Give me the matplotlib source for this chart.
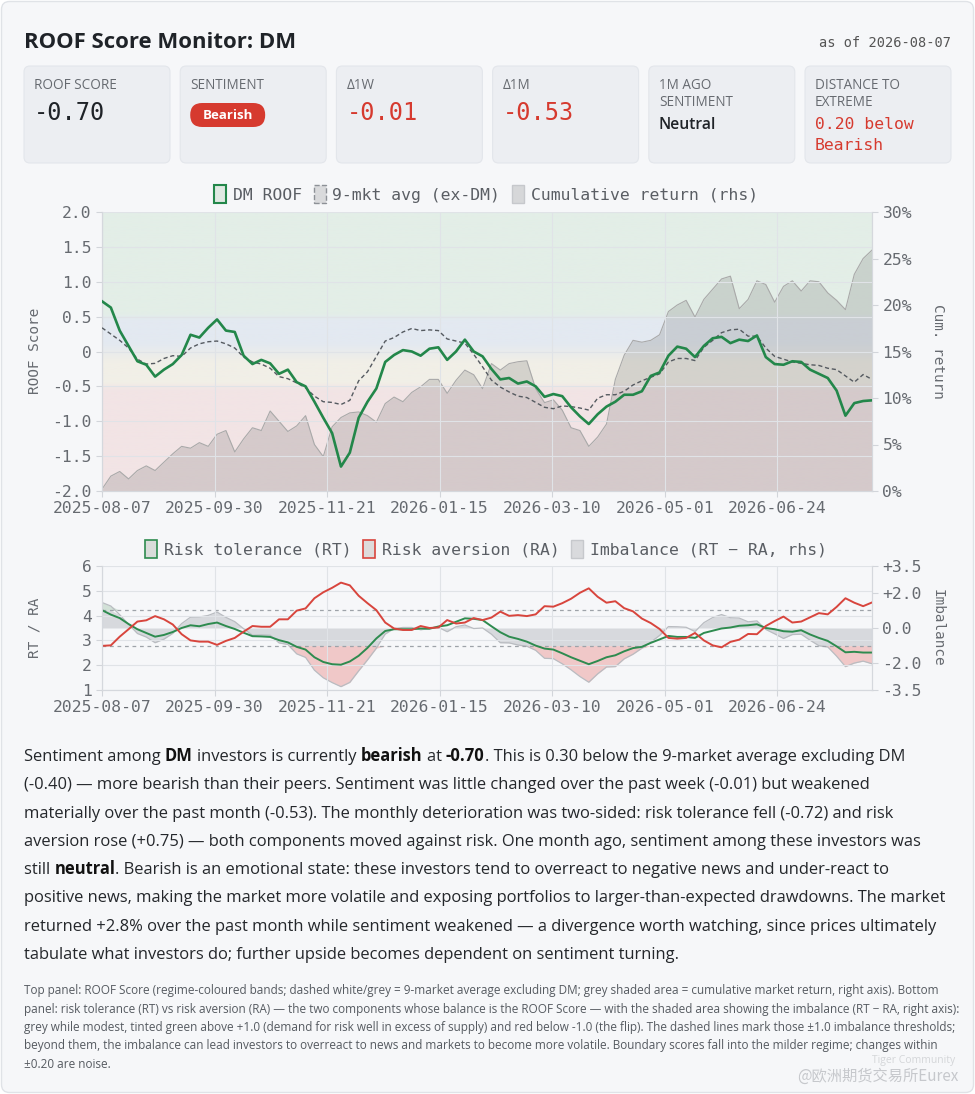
import numpy as np
import pandas as pd
import matplotlib
matplotlib.use("Agg")
import matplotlib.pyplot as plt
from matplotlib.patches import FancyBboxPatch, Patch
from matplotlib.colors import to_rgb
from matplotlib.ticker import FuncFormatter

W, H = 975, 1094
SANS = ["Open Sans", "DejaVu Sans"]
MONO = ["DejaVu Sans Mono"]
CJK = ["Noto Sans CJK SC", "DejaVu Sans"]

# ---- data (one value every 3 trading days) ----
dates = pd.bdate_range("2025-08-07", "2026-08-07").drop(pd.Timestamp("2025-12-25"))

roof = [0.72, 0.63, 0.30, 0.08, -0.14, -0.19, -0.36, -0.26, -0.18, -0.05,
        0.24, 0.20, 0.34, 0.46, 0.30, 0.28, -0.06, -0.18, -0.12, -0.17,
        -0.32, -0.26, -0.44, -0.50, -0.72, -0.95, -1.17, -1.65, -1.45, -0.95,
        -0.72, -0.53, -0.15, -0.05, 0.02, 0.00, -0.06, 0.04, 0.06, -0.12,
        0.00, 0.17, 0.00, -0.07, -0.25, -0.40, -0.38, -0.46, -0.43, -0.50,
        -0.65, -0.61, -0.64, -0.80, -0.93, -1.04, -0.90, -0.79, -0.72, -0.62,
        -0.62, -0.57, -0.35, -0.30, -0.06, 0.07, 0.04, -0.08, 0.08, 0.19,
        0.21, 0.12, 0.17, 0.15, 0.23, -0.08, -0.18, -0.19, -0.14, -0.15,
        -0.26, -0.32, -0.38, -0.56, -0.92, -0.74, -0.71, -0.70]

avg_ex_dm = [0.34, 0.25, 0.16, 0.05, -0.11, -0.18, -0.17, -0.10, -0.06, -0.07,
             0.05, 0.11, 0.14, 0.15, 0.11, 0.05, -0.08, -0.15, -0.18, -0.24,
             -0.36, -0.39, -0.45, -0.52, -0.64, -0.72, -0.73, -0.76, -0.70, -0.42,
             -0.29, -0.07, 0.15, 0.20, 0.28, 0.33, 0.30, 0.31, 0.30, 0.18,
             0.15, 0.12, -0.04, -0.22, -0.41, -0.51, -0.58, -0.64, -0.66, -0.73,
             -0.80, -0.82, -0.78, -0.79, -0.81, -0.84, -0.67, -0.62, -0.62, -0.57,
             -0.48, -0.42, -0.37, -0.32, -0.15, -0.10, -0.10, -0.13, 0.06, 0.16,
             0.27, 0.31, 0.32, 0.22, 0.22, 0.05, -0.07, -0.11, -0.15, -0.17,
             -0.19, -0.20, -0.24, -0.26, -0.35, -0.44, -0.33, -0.40]

cum_ret = [0.2, 1.6, 2.1, 1.3, 2.2, 2.7, 2.2, 3.1, 4.0, 4.8,
           4.6, 5.2, 4.8, 6.1, 6.5, 4.2, 5.6, 6.8, 6.5, 8.6,
           7.5, 6.4, 7.0, 8.1, 5.0, 3.7, 6.9, 7.9, 8.4, 8.5,
           8.1, 7.4, 9.4, 10.1, 9.6, 10.6, 11.2, 12.0, 12.0, 10.5,
           11.9, 13.0, 12.5, 11.0, 13.7, 13.0, 13.7, 13.9, 14.0, 11.0,
           9.5, 9.8, 8.7, 6.8, 6.5, 4.8, 5.8, 7.2, 12.0, 14.6,
           16.2, 16.0, 16.2, 16.8, 19.3, 20.0, 20.5, 18.7, 20.6, 21.7,
           22.8, 23.1, 19.6, 20.6, 22.6, 22.2, 20.3, 22.0, 22.6, 21.5,
           22.6, 22.5, 21.3, 20.5, 19.5, 23.3, 25.0, 25.9]

rt = [4.22, 4.04, 3.90, 3.66, 3.45, 3.30, 3.15, 3.22, 3.34, 3.50,
      3.61, 3.57, 3.66, 3.72, 3.58, 3.46, 3.31, 3.17, 3.16, 3.14,
      3.01, 2.92, 2.74, 2.63, 2.32, 2.13, 2.04, 2.02, 2.15, 2.38,
      2.70, 3.08, 3.38, 3.45, 3.45, 3.45, 3.48, 3.47, 3.56, 3.61,
      3.75, 3.89, 3.87, 3.82, 3.57, 3.33, 3.15, 3.06, 2.95, 2.79,
      2.67, 2.63, 2.48, 2.32, 2.18, 2.04, 2.17, 2.32, 2.40, 2.56,
      2.69, 2.74, 2.90, 3.04, 3.18, 3.14, 3.14, 3.10, 3.30, 3.39,
      3.48, 3.52, 3.59, 3.61, 3.65, 3.50, 3.45, 3.37, 3.35, 3.41,
      3.24, 3.10, 2.98, 2.76, 2.52, 2.54, 2.51, 2.51]

ra = [2.78, 2.80, 3.15, 3.45, 3.76, 3.81, 3.98, 3.85, 3.64, 3.25,
      3.00, 2.95, 2.95, 2.82, 2.98, 3.10, 3.35, 3.58, 3.55, 3.55,
      3.85, 3.85, 4.20, 4.29, 4.70, 4.94, 5.12, 5.33, 5.22, 4.80,
      4.50, 4.22, 3.72, 3.48, 3.42, 3.42, 3.58, 3.50, 3.52, 3.82,
      3.68, 3.72, 3.90, 3.82, 3.92, 4.16, 3.99, 4.02, 3.98, 4.05,
      4.38, 4.36, 4.50, 4.68, 4.92, 5.10, 4.76, 4.52, 4.58, 4.30,
      4.17, 3.88, 3.70, 3.46, 3.10, 3.07, 3.10, 3.30, 3.00, 2.80,
      2.72, 2.94, 3.03, 3.26, 3.25, 3.58, 3.78, 3.96, 3.72, 3.76,
      3.93, 4.10, 4.05, 4.35, 4.70, 4.52, 4.38, 4.53]

tick_every = 38  # trading days between date labels

stat_labels = [["ROOF SCORE"], ["SENTIMENT"], ["\u03941W"], ["\u03941M"],
               ["1M AGO", "SENTIMENT"], ["DISTANCE TO", "EXTREME"]]
stat_values = ["-0.70", "Bearish", "-0.01", "-0.53", "Neutral", "0.20 below\nBearish"]

# ---- derived ----
xmax = len(dates) - 1
pos = np.linspace(0, xmax, len(roof))
imb = np.array(rt) - np.array(ra)
tick_pos = np.arange(0, len(dates), tick_every)
tick_lab = [dates[i].strftime("%Y-%m-%d") for i in tick_pos]

INK = "#1f2328"
MUTED = "#666a70"
RED = "#d63a2f"
GREEN = "#23874a"
GRID = "#e0e3e7"

fig = plt.figure(figsize=(W / 100, H / 100), dpi=100)
fig.patch.set_facecolor("white")

# pixel-space background axes for cards and text
bg = fig.add_axes([0, 0, 1, 1])
bg.set_xlim(0, W)
bg.set_ylim(H, 0)
bg.axis("off")
bg.set_zorder(0)
rend = fig.canvas.get_renderer()


def width_of(s, size, weight="normal", family=SANS):
    t = bg.text(0, 0, s, family=family, fontsize=size, fontweight=weight)
    w = t.get_window_extent(rend).width
    t.remove()
    return w


def advance(s, size, weight="normal"):
    # width including spaces and side bearings
    return width_of("x" + s + "x", size, weight) - width_of("xx", size, weight)


def fit(s, target, weight="normal", family=SANS):
    return 10 * target / width_of(s, 10, weight, family)


bg.add_patch(FancyBboxPatch((1.5, 1.5), W - 3, H - 3, boxstyle="round,pad=0,rounding_size=8",
                            fc="#f6f7f9", ec="#e0e3e7", lw=1))

title = "ROOF Score Monitor: DM"
bg.text(24, 48, title, family=SANS, fontsize=fit(title, 273, "bold"), fontweight="bold", color=INK)
bg.text(951, 47, "as of 2026-08-07", family=MONO, fontsize=9.8, color="#555", ha="right")

# stat cards
lab_size = fit("ROOF SCORE", 82)
for i, (labs, val) in enumerate(zip(stat_labels, stat_values)):
    x0 = 24 + i * 156.2
    bg.add_patch(FancyBboxPatch((x0, 66), 146, 97, boxstyle="round,pad=0,rounding_size=6",
                                fc="#eceef2", ec="#e3e6eb", lw=0.8))
    for k, lab in enumerate(labs):
        bg.text(x0 + 10, 89 + 17 * k, lab, family=SANS, fontsize=lab_size, color=MUTED)
    if val == "Bearish":
        bg.add_patch(FancyBboxPatch((x0 + 10, 103), 75, 24, boxstyle="round,pad=0,rounding_size=12",
                                    fc=RED, ec="none"))
        bg.text(x0 + 47.5, 115.5, val, family=SANS, fontsize=fit(val, 50, "bold"), fontweight="bold",
                color="white", ha="center", va="center")
    elif val == "Neutral":
        bg.text(x0 + 10, 129, val, family=SANS, fontsize=fit(val, 57, "semibold"),
                fontweight="semibold", color=INK)
    elif "\n" in val:
        for k, part in enumerate(val.split("\n")):
            bg.text(x0 + 10, 129 + 21 * k, part, family=MONO, fontsize=11.8, color=RED)
    else:
        col = INK if i == 0 else RED
        bg.text(x0 + 10, 120, val, family=MONO, fontsize=17, color=col)


def style_axis(a):
    a.tick_params(labelsize=11.8, colors="#d2d5da", labelcolor=MUTED, length=4, width=0.8)
    for lab in a.get_xticklabels() + a.get_yticklabels():
        lab.set_family(MONO)
    for s in a.spines.values():
        s.set_color("#d5d8dd")
        s.set_linewidth(0.8)
    a.spines["top"].set_visible(False)


# ---- top panel ----
ax = fig.add_axes([102 / W, 1 - 491 / H, 770 / W, 279 / H])
ax2 = ax.twinx()
ax.set_zorder(3)
ax2.set_zorder(2)
ax.patch.set_visible(False)

stops = [(-2.0, "#f2e4e5"), (-0.56, "#f2e4e5"), (-0.44, "#f1efe7"), (-0.15, "#f1efe7"),
         (0.12, "#e3e9f1"), (0.45, "#e3e9f1"), (0.55, "#e3eee7"), (2.0, "#e3eee7")]
vals = np.linspace(-2, 2, 400)
sv = [s[0] for s in stops]
img = np.zeros((len(vals), 1, 3))
for c in range(3):
    img[:, 0, c] = np.interp(vals, sv, [to_rgb(s[1])[c] for s in stops])
ax2.imshow(img, extent=(0, xmax, 0, 30), origin="lower", aspect="auto", zorder=0)
ax2.fill_between(pos, 0, cum_ret, color="#7f7f7f", alpha=0.25, lw=0, zorder=1)
ax2.plot(pos, cum_ret, color="#a9a9a9", lw=0.8, zorder=2)
ax2.set_ylim(0, 30)
ax2.set_yticks(np.arange(0, 31, 5))
ax2.yaxis.set_major_formatter(FuncFormatter(lambda v, p: f"{v:.0f}%"))

ax.plot(pos, avg_ex_dm, color="#555a60", lw=1.0, dashes=(3, 2), zorder=3)
ax.plot(pos, roof, color=GREEN, lw=1.9, zorder=4)
ax.set_ylim(-2, 2)
ax.set_yticks(np.arange(-2, 2.01, 0.5))
ax.yaxis.set_major_formatter(FuncFormatter(lambda v, p: "0" if abs(v) < 1e-9 else f"{v:.1f}"))
ax.set_xlim(0, xmax)
ax.set_xticks(tick_pos)
ax.set_xticklabels(tick_lab)
ax.grid(color=GRID, lw=0.8)
ax.set_axisbelow(True)
for a in (ax, ax2):
    style_axis(a)

# ---- bottom panel ----
ax3 = fig.add_axes([102 / W, 1 - 690 / H, 770 / W, 124 / H])
ax4 = ax3.twinx()
ax3.set_zorder(3)
ax4.set_zorder(2)
ax3.patch.set_visible(False)
ax4.patch.set_facecolor("#f6f7f9")

ax4.fill_between(pos, 0, np.clip(imb, -1, 1), color="#c7cace", alpha=0.65, lw=0)
ax4.fill_between(pos, -1, np.minimum(imb, -1), color="#eda9a8", alpha=0.6, lw=0)
ax4.fill_between(pos, 1, np.maximum(imb, 1), color="#c3d9c9", alpha=0.7, lw=0)
ax4.plot(pos, imb, color="#b9bcc1", lw=0.9)
for lvl in (1, -1):
    ax4.axhline(lvl, color="#9ea3a9", lw=0.9, dashes=(3, 3))
ax4.set_ylim(-3.5, 3.5)
ax4.set_yticks([3.5, 2.0, 0.0, -2.0, -3.5])
ax4.set_yticklabels(["+3.5", "+2.0", "0.0", "-2.0", "-3.5"])

ax3.plot(pos, rt, color="#2e8b4f", lw=1.4)
ax3.plot(pos, ra, color="#d8453d", lw=1.4)
ax3.set_ylim(1, 6)
ax3.set_yticks(range(1, 7))
ax3.set_xlim(0, xmax)
ax3.set_xticks(tick_pos)
ax3.set_xticklabels(tick_lab)
ax3.grid(color=GRID, lw=0.8)
for a in (ax3, ax4):
    style_axis(a)

# axis titles
for x, y, s, rot in [(35, 351, "ROOF Score", 90), (938, 351, "Cum. return", 270),
                     (35, 628, "RT / RA", 90), (938, 628, "Imbalance", 270)]:
    bg.text(x, y, s, family=MONO, fontsize=10.4, color=MUTED, rotation=rot,
            ha="center", va="center")

# legends
leg_kw = dict(loc="center", ncol=3, frameon=False, handlelength=0.75, handleheight=1.25,
              handletextpad=0.4, columnspacing=0.7, labelcolor="#5a5e64",
              prop={"family": MONO, "size": 11.8})
top_handles = [Patch(fc="#dfe9e2", ec=GREEN, lw=1.5, label="DM ROOF"),
               Patch(fc="#d9dadc", ec="#8d9197", ls="--", lw=1, label="9-mkt avg (ex-DM)"),
               Patch(fc="#d6d7d9", ec="#c6c8cc", lw=1, label="Cumulative return (rhs)")]
fig.legend(handles=top_handles, bbox_to_anchor=(486 / W, 1 - 194 / H), **leg_kw)
bot_handles = [Patch(fc="#d9dcda", ec="#2e8b4f", lw=1.2, label="Risk tolerance (RT)"),
               Patch(fc="#dedbdb", ec="#d8453d", lw=1.2, label="Risk aversion (RA)"),
               Patch(fc="#d9dadd", ec="#c6c8cc", lw=1, label="Imbalance (RT \u2212 RA, rhs)")]
fig.legend(handles=bot_handles, bbox_to_anchor=(486 / W, 1 - 549 / H), **leg_kw)


# ---- commentary with inline bold ----
def rich_line(x, y, segs, size, color):
    for s, bold in segs:
        wt = "bold" if bold else "normal"
        core = s.lstrip(" ")
        x += advance(s[:len(s) - len(core)], size, wt)
        bg.text(x, y, core, family=SANS, fontsize=size, fontweight=wt,
                color="#111" if bold else color)
        x += advance(core, size, wt)


body = [
    [("Sentiment among ", 0), ("DM", 1), (" investors is currently ", 0), ("bearish", 1), (" at ", 0),
     ("-0.70", 1), (". This is 0.30 below the 9-market average excluding DM", 0)],
    [("(-0.40) \u2014 more bearish than their peers. Sentiment was little changed over the past week (-0.01) but weakened", 0)],
    [("materially over the past month (-0.53). The monthly deterioration was two-sided: risk tolerance fell (-0.72) and risk", 0)],
    [("aversion rose (+0.75) \u2014 both components moved against risk. One month ago, sentiment among these investors was", 0)],
    [("still ", 0), ("neutral", 1), (". Bearish is an emotional state: these investors tend to overreact to negative news and under-react to", 0)],
    [("positive news, making the market more volatile and exposing portfolios to larger-than-expected drawdowns. The market", 0)],
    [("returned +2.8% over the past month while sentiment weakened \u2014 a divergence worth watching, since prices ultimately", 0)],
    [("tabulate what investors do; further upside becomes dependent on sentiment turning.", 0)],
]
body_size = fit(body[5][0][0], 927)
for k, segs in enumerate(body):
    rich_line(24, 761 + 28.3 * k, segs, body_size, "#24272b")

notes = [
    "Top panel: ROOF Score (regime-coloured bands; dashed white/grey = 9-market average excluding DM; grey shaded area = cumulative market return, right axis). Bottom",
    "panel: risk tolerance (RT) vs risk aversion (RA) \u2014 the two components whose balance is the ROOF Score \u2014 with the shaded area showing the imbalance (RT \u2212 RA, right axis):",
    "grey while modest, tinted green above +1.0 (demand for risk well in excess of supply) and red below -1.0 (the flip). The dashed lines mark those \u00b11.0 imbalance thresholds;",
    "beyond them, the imbalance can lead investors to overreact to news and markets to become more volatile. Boundary scores fall into the milder regime; changes within",
    "\u00b10.20 are noise.",
]
note_size = fit(notes[1], 931)
for k, s in enumerate(notes):
    bg.text(24, 994 + 18.5 * k, s, family=SANS, fontsize=note_size, color="#555a60")

# watermark
bg.text(955, 1063, "Tiger Community", family=SANS, fontsize=7.5, color="#d4d6d9", ha="right")
bg.text(958, 1081, "@\u6b27\u6d32\u671f\u8d27\u4ea4\u6613\u6240Eurex", family=CJK, fontsize=11,
        color="#c6c8cc", ha="right")

fig.savefig("out.png", dpi=100, facecolor=fig.get_facecolor())
